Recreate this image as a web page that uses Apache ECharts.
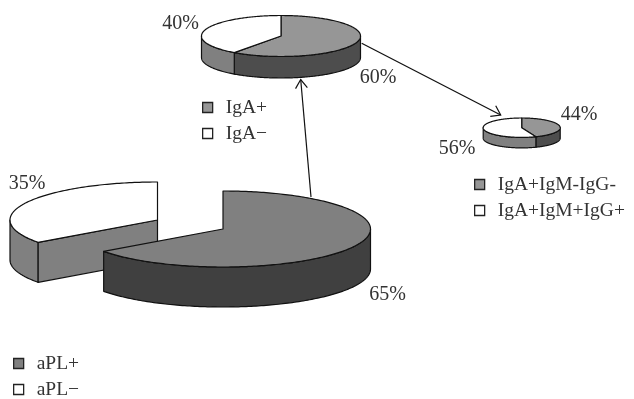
<!DOCTYPE html>
<html><head><meta charset="utf-8">
<style>html,body{margin:0;padding:0;background:#fff}#c{width:634px;height:399px}</style>
<script src="https://cdn.jsdelivr.net/npm/echarts@6/dist/echarts.min.js"></script>
</head><body><div id="c"></div>
<script>
// ---- data ----
const aplNames = ['aPL+', 'aPL\u2212'];
const aplValues = [65, 35];
const igaNames = ['IgA+', 'IgA\u2212'];
const igaValues = [60, 40];
const subNames = ['IgA+IgM-IgG-', 'IgA+IgM+IgG+'];
const subValues = [44, 56];

// ---- layout ----
const FONT = '"Liberation Serif", serif';
const INK = '#333';
const pies = [
  { names: aplNames, values: aplValues, rx: 147.5, ry: 38, depth: 40,
    slices: [
      { cx: 223, cy: 229, top: '#808080', side: '#404040', lx: 387.5, ly: 294.5 },
      { cx: 157.5, cy: 220, top: '#ffffff', side: '#808080', cut: true, lx: 27, ly: 183.5 }
    ], order: [1, 0] },
  { names: igaNames, values: igaValues, rx: 79.5, ry: 20.5, depth: 21.5,
    slices: [
      { cx: 281, cy: 36, top: '#969696', side: '#4d4d4d', lx: 378, ly: 78 },
      { cx: 281, cy: 36, top: '#ffffff', side: '#808080', lx: 180.5, ly: 23.5 }
    ], order: [0, 1] },
  { names: subNames, values: subValues, rx: 38.5, ry: 9.7, depth: 10.5,
    slices: [
      { cx: 521.7, cy: 127.7, top: '#969696', side: '#4d4d4d', lx: 579, ly: 114.5 },
      { cx: 521.7, cy: 127.7, top: '#ffffff', side: '#808080', lx: 457, ly: 148.5 }
    ], order: [0, 1] }
];

function rim(s, p, deg, dz) {
  const a = deg * Math.PI / 180;
  return [s.cx + p.rx * Math.sin(a), s.cy - p.ry * Math.cos(a) + (dz || 0)];
}
const stroke = { stroke: '#111', lineWidth: 1.2, lineJoin: 'round' };

function sliceSeries(pie, i) {
  const total = pie.values.reduce((a, b) => a + b, 0);
  const start = pie.values.slice(0, i).reduce((a, b) => a + b, 0);
  const s = pie.slices[i];
  return {
    type: 'custom', name: pie.names[i], coordinateSystem: 'none', silent: true,
    data: [[pie.values[i], start, total]],
    animation: false,
    itemStyle: { color: s.top },
    renderItem(params, api) {
      const a0 = api.value(1) / api.value(2) * 360;
      const a1 = a0 + api.value(0) / api.value(2) * 360;
      const children = [];
      // front wall
      const w0 = Math.max(a0, 90), w1 = Math.min(a1, 270);
      if (w1 > w0) {
        const pts = [];
        for (let d = w0; d < w1; d += 1) pts.push(rim(s, pie, d, 0));
        pts.push(rim(s, pie, w1, 0));
        for (let d = w1; d > w0; d -= 1) pts.push(rim(s, pie, d, pie.depth));
        pts.push(rim(s, pie, w0, pie.depth));
        children.push({ type: 'polygon', shape: { points: pts }, style: { fill: s.side, ...stroke } });
      }
      // radial cut face of the pulled-out slice
      if (s.cut) {
        const r = rim(s, pie, a0, 0);
        children.push({ type: 'polygon', shape: { points: [
          [s.cx, s.cy], r, [r[0], r[1] + pie.depth], [s.cx, s.cy + pie.depth]
        ] }, style: { fill: s.side, ...stroke } });
      }
      // top face
      const top = [[s.cx, s.cy]];
      for (let d = a0; d < a1; d += 1) top.push(rim(s, pie, d, 0));
      top.push(rim(s, pie, a1, 0));
      children.push({ type: 'polygon', shape: { points: top }, style: { fill: s.top, ...stroke } });
      children.push({ type: 'text', style: {
        x: s.lx, y: s.ly, text: api.value(0) + '%', fill: INK,
        font: '20px ' + FONT, textAlign: 'center', textVerticalAlign: 'middle' } });
      return { type: 'group', children };
    }
  };
}

const series = [];
pies.forEach(p => p.order.forEach(i => series.push(sliceSeries(p, i))));

function legend(names, colors, left, top) {
  return {
    left, top, height: 60, orient: 'vertical', selectedMode: false, itemWidth: 10, itemHeight: 10,
    itemGap: 6, padding: 0, align: 'left',
    textStyle: { fontFamily: FONT, fontSize: 19.5, color: INK, padding: [2, 0, 0, 8], lineHeight: 16 },
    data: names.map((n, i) => ({ name: n, icon: 'rect',
      itemStyle: { color: colors[i], borderColor: '#222', borderWidth: 1.3 } }))
  };
}

function arrow(x0, y0, x1, y1) {
  const ang = Math.atan2(y1 - y0, x1 - x0), L = 10.5, W = 0.6;
  const h = t => [x1 - L * Math.cos(ang + t), y1 - L * Math.sin(ang + t)];
  const st = { stroke: '#111', lineWidth: 1.2, fill: null };
  return [
    { type: 'line', shape: { x1: x0, y1: y0, x2: x1, y2: y1 }, style: st, z: 50 },
    { type: 'polyline', shape: { points: [h(W), [x1, y1], h(-W)] }, style: st, z: 50 }
  ];
}

const chart = echarts.init(document.getElementById('c'), null, { renderer: 'canvas' });
chart.setOption({
  backgroundColor: '#fff',
  animation: false,
  legend: [
    legend(aplNames, ['#808080', '#ffffff'], 13, 353.5),
    legend(igaNames, ['#969696', '#ffffff'], 202, 97.5),
    legend(subNames, ['#969696', '#ffffff'], 474, 174.5)
  ],
  graphic: { elements: [...arrow(311, 197, 300.7, 79.5), ...arrow(361.7, 43.3, 500.7, 115)] },
  series
});
</script></body></html>
